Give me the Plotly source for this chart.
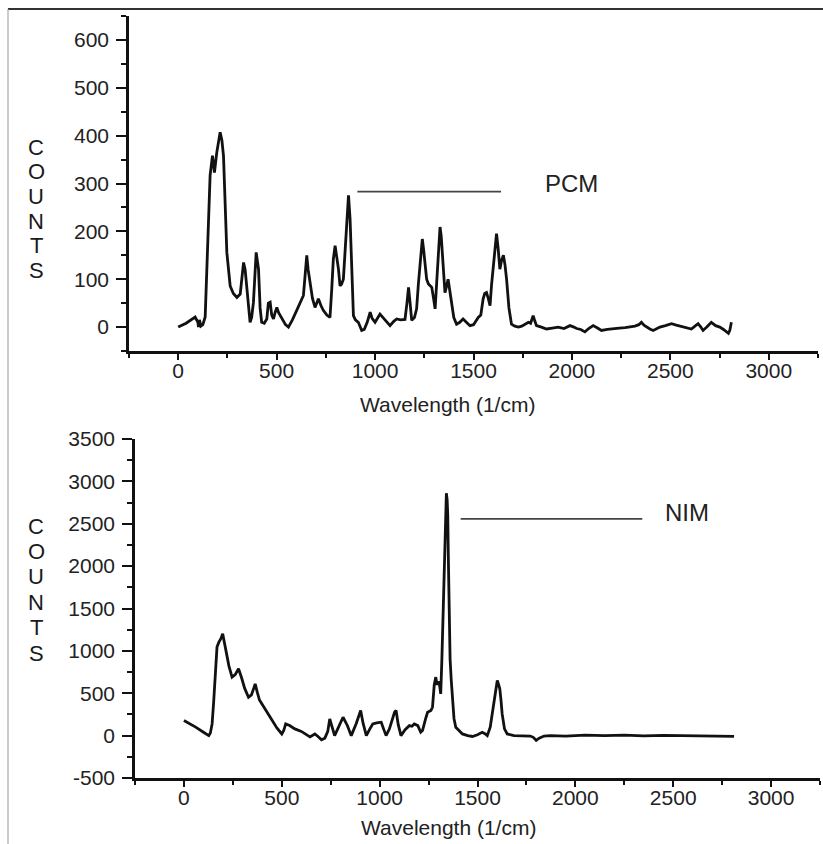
import plotly.graph_objects as go

# ---------------- data ----------------
pcm_x = [0, 40, 86, 100, 103, 108, 115, 125, 137, 146, 155, 162, 174, 184, 196, 213, 222, 230, 247, 264,
         280, 298, 315, 332, 340, 348, 358, 365, 373, 382, 396, 408, 416, 424, 437, 450, 458, 467, 475, 484,
         492, 501, 510, 526, 545, 560, 580, 602, 620, 636, 645, 653, 660, 670, 682, 695, 712, 725, 737, 755,
         771, 780, 788, 797, 805, 814, 822, 830, 839, 848, 857, 865, 873, 882, 890, 900, 915, 932, 945, 960,
         975, 985, 1000, 1025, 1050, 1076, 1095, 1110, 1130, 1152, 1162, 1170, 1178, 1186, 1200, 1211, 1220,
         1228, 1235, 1240, 1247, 1254, 1262, 1271, 1288, 1297, 1305, 1313, 1322, 1330, 1336, 1343, 1350,
         1355, 1363, 1371, 1380, 1388, 1400, 1414, 1430, 1447, 1465, 1482, 1500, 1524, 1537, 1549, 1557,
         1566, 1575, 1584, 1592, 1601, 1610, 1617, 1625, 1634, 1643, 1652, 1660, 1668, 1680, 1693, 1710,
         1728, 1745, 1761, 1779, 1790, 1803, 1812, 1820, 1845, 1871, 1900, 1930, 1960, 1990, 2010, 2024,
         2045, 2066, 2085, 2108, 2130, 2150, 2180, 2209, 2240, 2270, 2294, 2320, 2340, 2353, 2366, 2379,
         2396, 2413, 2430, 2447, 2475, 2506, 2530, 2565, 2585, 2607, 2625, 2641, 2655, 2666, 2685, 2708,
         2730, 2751, 2770, 2785, 2795, 2802, 2806, 2810]
pcm_y = [0, 8, 21, 10, 0, 15, 2, 5, 21, 136, 250, 317, 358, 323, 365, 407, 390, 358, 156, 86,
         70, 62, 69, 135, 120, 86, 30, 10, 20, 51, 156, 121, 40, 10, 8, 17, 50, 52, 25, 17,
         30, 41, 30, 17, 5, 0, 15, 35, 50, 66, 110, 150, 120, 94, 60, 41, 59, 45, 35, 25,
         20, 80, 142, 170, 150, 121, 86, 90, 100, 170, 230, 275, 226, 120, 24, 15, 10, -7, -5, 10,
         31, 18, 10, 27, 15, 3, 12, 17, 15, 16, 50, 83, 50, 14, 20, 38, 90,
         128, 175, 184, 160, 135, 100, 90, 83, 60, 38, 93, 160, 209, 190, 142, 100,
         72, 85, 100, 75, 51, 20, 6, 10, 17, 10, 3, 5, 20, 25, 59, 70,
         72, 60, 45, 90, 128, 175, 195, 165, 121, 140, 150, 130, 100, 40, 6, 2,
         0, 2, 6, 10, 8, 24, 12, 3, 0, -4, -2, 0, -3, 3, 0, -3,
         -5, -10, -3, 3, -2, -7, -5, -3, -2, -1, 0, 2, 5, 10, 4, 0,
         -4, -7, -3, 0, 3, 7, 4, 0, -2, -4, 2, 7, 0, -7, 0, 10,
         3, 0, -5, -10, -13, -7, 3, 10]

nim_x = [0, 30, 60, 100, 127, 135, 144, 152, 161, 169, 178, 190, 198, 205, 215, 230, 246, 262, 279, 295,
         310, 330, 345, 357, 364, 375, 386, 398, 420, 449, 475, 500, 510, 520, 540, 567, 600, 644, 669, 685,
         703, 720, 735, 745, 755, 770, 790, 813, 835, 855, 880, 903, 915, 932, 950, 965, 985, 1008, 1020,
         1033, 1050, 1065, 1076, 1084, 1095, 1109, 1130, 1152, 1165, 1177, 1195, 1210, 1219, 1235, 1245,
         1262, 1270, 1279, 1287, 1293, 1300, 1306, 1312, 1318, 1324, 1330, 1336, 1341, 1345, 1348, 1351,
         1355, 1360, 1366, 1372, 1380, 1389, 1405, 1423, 1450, 1474, 1500, 1524, 1540, 1550, 1565, 1575,
         1588, 1601, 1608, 1614, 1620, 1626, 1638, 1652, 1686, 1740, 1770, 1785, 1800, 1815, 1840, 1871,
         1950, 2050, 2150, 2250, 2350, 2450, 2550, 2650, 2750, 2811]
nim_y = [178, 140, 100, 40, 0, 30, 138, 400, 730, 1045, 1100, 1150, 1203, 1130, 1000, 820, 690, 720, 789, 680,
         560, 453, 480, 560, 611, 510, 420, 375, 290, 178, 90, 20, 60, 138, 120, 79, 50, -15, 20, -10,
         -50, -30, 50, 197, 120, 0, 100, 217, 120, 0, 140, 296, 150, 0, 80, 138, 150, 158, 80,
         0, 80, 200, 276, 296, 130, 0, 70, 118, 110, 138, 118, 40, 59, 200, 276,
         296, 335, 600, 690, 600, 640, 600, 493, 900, 1500, 2110, 2650, 2860, 2780, 2600, 2100,
         1400, 900, 650, 400, 200, 99, 60, 20, 0, -10, 10, 39, 20, 0, 100, 256,
         480, 651, 600, 552, 420, 256, 80, 20, 0, 0, -5, -20, -55, -30, -5, 0,
         -5, 5, 0, 5, -3, 3, 0, 4, -2, -8]

# axis tick labels and titles
pcm_yticks = [0, 100, 200, 300, 400, 500, 600]
nim_yticks = [-500, 0, 500, 1000, 1500, 2000, 2500, 3000, 3500]
x_ticks = [0, 500, 1000, 1500, 2000, 2500, 3000]
y_title = "COUNTS"
x_title = "Wavelength (1/cm)"

FONT = "Liberation Sans, Arial, Helvetica, sans-serif"
W, H = 823, 844
MT, MB = 16, 66          # plot area spans pixel rows 16 .. 778
PH = H - MT - MB


def px_x(p):
    return p / W


def px_y(p):
    return (H - MB - p) / PH


fig = go.Figure()
fig.add_trace(go.Scatter(x=pcm_x, y=pcm_y, mode="lines", line=dict(color="#111", width=2.8),
                         xaxis="x", yaxis="y", showlegend=False, hoverinfo="skip"))
fig.add_trace(go.Scatter(x=nim_x, y=nim_y, mode="lines", line=dict(color="#111", width=2.8),
                         xaxis="x2", yaxis="y2", showlegend=False, hoverinfo="skip"))

common_x = dict(range=[-250, 3250], showline=True, linecolor="#111", linewidth=2.5,
                ticks="outside", ticklen=6, tickwidth=2, tickcolor="#111",
                tickmode="array", tickvals=x_ticks, ticktext=[str(v) for v in x_ticks],
                tickfont=dict(family=FONT, size=21, color="#222"),
                minor=dict(dtick=250, tick0=0, ticks="outside", ticklen=4, tickwidth=2, tickcolor="#111"),
                showgrid=False, zeroline=False, fixedrange=True, ticklabelstandoff=-7,
                automargin=False)

common_y = dict(showline=True, linecolor="#111", linewidth=2.5,
                ticks="outside", ticklen=10, tickwidth=2, tickcolor="#111",
                tickfont=dict(family=FONT, size=21, color="#222"),
                showgrid=False, zeroline=False, fixedrange=True, ticklabelstandoff=3,
                automargin=False)

fig.update_layout(
    width=W, height=H, margin=dict(l=0, r=0, t=MT, b=MB, autoexpand=False),
    paper_bgcolor="white", plot_bgcolor="white",
    font=dict(family=FONT, color="#222"),
    xaxis=dict(domain=[px_x(129), px_x(818)], anchor="y", **common_x),
    yaxis=dict(domain=[px_y(351), px_y(16)], anchor="x", range=[-50, 650],
               tickmode="array", tickvals=pcm_yticks, ticktext=[str(v) for v in pcm_yticks],
               minor=dict(dtick=50, tick0=0, ticks="outside", ticklen=5, tickwidth=1.5, tickcolor="#111"),
               **common_y),
    xaxis2=dict(domain=[px_x(135), px_x(820)], anchor="y2", **common_x),
    yaxis2=dict(domain=[px_y(778), px_y(439)], anchor="x2", range=[-500, 3500],
                tickmode="array", tickvals=nim_yticks, ticktext=[str(v) for v in nim_yticks],
                minor=dict(dtick=250, tick0=0, ticks="outside", ticklen=5, tickwidth=1.5, tickcolor="#111"),
                **common_y),
)

annotations = [
    dict(text=x_title, x=px_x(447), y=px_y(404), xref="paper", yref="paper",
         showarrow=False, font=dict(family=FONT, size=21, color="#222"), xanchor="center", yanchor="middle"),
    dict(text=x_title, x=px_x(449), y=px_y(827), xref="paper", yref="paper",
         showarrow=False, font=dict(family=FONT, size=21, color="#222"), xanchor="center", yanchor="middle"),
    dict(text="PCM", x=2000, y=301, xref="x", yref="y", showarrow=False,
         font=dict(family=FONT, size=24, color="#222"), xanchor="center", yanchor="middle"),
    dict(text="NIM", x=2571, y=2631, xref="x2", yref="y2", showarrow=False,
         font=dict(family=FONT, size=24, color="#222"), xanchor="center", yanchor="middle"),
]
# vertical stacked "COUNTS" labels (one letter per row, tight spacing as in the reference)
for top_c, step in [(147.5, 24.5), (526, 25.4)]:
    for i, ch in enumerate(y_title):
        annotations.append(dict(text=ch, x=px_x(36), y=px_y(top_c + i * step), xref="paper", yref="paper",
                                showarrow=False, font=dict(family=FONT, size=22, color="#1a1a1a"),
                                xanchor="center", yanchor="middle"))
fig.update_layout(annotations=annotations)

shapes = [
    dict(type="line", xref="x", yref="y", x0=910, x1=1640, y0=283, y1=283,
         line=dict(color="#444", width=1.6)),
    dict(type="line", xref="x2", yref="y2", x0=1414, x1=2342, y0=2557, y1=2557,
         line=dict(color="#444", width=1.6)),
    dict(type="line", xref="paper", yref="paper", x0=px_x(8), x1=1, y0=px_y(9), y1=px_y(9),
         line=dict(color="#333", width=2)),
    dict(type="line", xref="paper", yref="paper", x0=px_x(8), x1=px_x(8), y0=px_y(844), y1=px_y(9),
         line=dict(color="#999", width=1)),
]
fig.update_layout(shapes=shapes)

fig.write_html("out.html", config={"displayModeBar": False},
               post_script="document.body.style.margin='0';")
